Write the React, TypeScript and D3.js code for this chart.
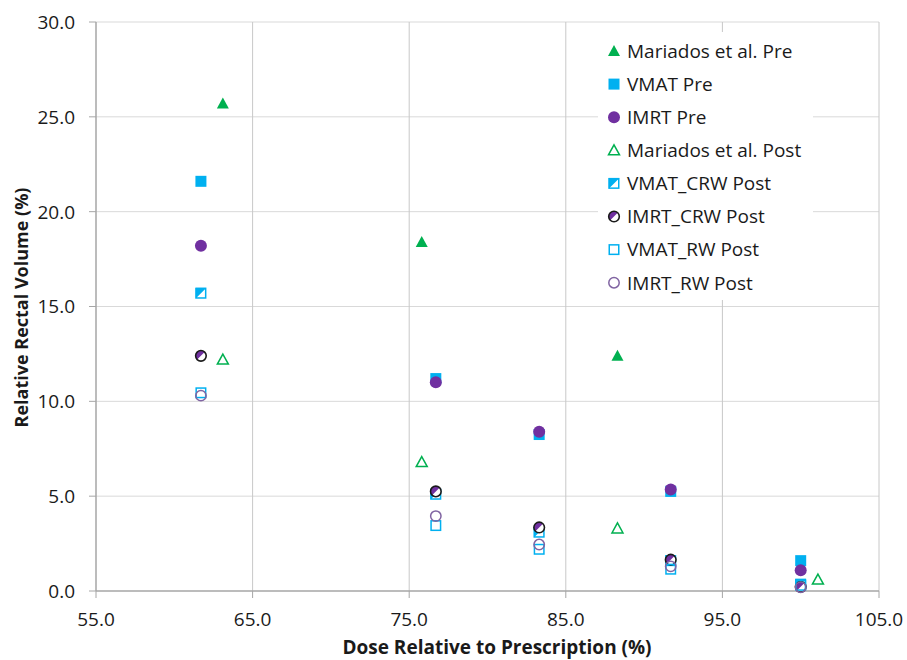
import React from "react";
import * as d3 from "d3";

const xTicks = [55, 65, 75, 85, 95, 105];
const yTicks = [0, 5, 10, 15, 20, 25, 30];

const mariadosPreX = [63.1, 75.8, 88.3];
const mariadosPreY = [25.7, 18.4, 12.4];
const mariadosPostX = [63.1, 75.8, 88.3, 101.1];
const mariadosPostY = [12.2, 6.8, 3.3, 0.6];

const planX = [61.7, 76.7, 83.3, 91.7, 100];
const vmatPre = [21.6, 11.2, 8.25, 5.25, 1.6];
const imrtPre = [18.2, 11.0, 8.4, 5.35, 1.1];
const vmatCrw = [15.7, 5.1, 3.1, 1.6, 0.35];
const imrtCrw = [12.4, 5.25, 3.35, 1.65, 0.22];
const vmatRw = [10.45, 3.45, 2.2, 1.15, 0.3];
const imrtRw = [10.3, 3.95, 2.45, 1.3, 0.2];

const seriesNames = [
  "Mariados et al. Pre",
  "VMAT Pre",
  "IMRT Pre",
  "Mariados et al. Post",
  "VMAT_CRW Post",
  "IMRT_CRW Post",
  "VMAT_RW Post",
  "IMRT_RW Post",
];

const GREEN = "#00b050";
const BLUE = "#00b0f0";
const PURPLE = "#7030a0";
const LPURPLE = "#8064a2";

const W = 907, H = 660;
const left = 96, right = 879, top = 22, bottom = 591;
const FONT = "'Open Sans', Lato, sans-serif";

function Marker({ kind, cx, cy }: { kind: number; cx: number; cy: number }) {
  const s = 5.5;
  switch (kind) {
    case 0:
      return <path d={`M${cx},${cy - 6}L${cx + 6},${cy + 5}L${cx - 6},${cy + 5}Z`} fill={GREEN} />;
    case 1:
      return <rect x={cx - s} y={cy - s} width={2 * s} height={2 * s} fill={BLUE} />;
    case 2:
      return <circle cx={cx} cy={cy} r={6} fill={PURPLE} />;
    case 3:
      return <path d={`M${cx},${cy - 5.5}L${cx + 5.5},${cy + 4.5}L${cx - 5.5},${cy + 4.5}Z`} fill="none" stroke={GREEN} strokeWidth={1.5} />;
    case 4:
      return (
        <g>
          <rect x={cx - s + 0.75} y={cy - s + 0.75} width={2 * s - 1.5} height={2 * s - 1.5} fill="#fff" />
          <path d={`M${cx - s},${cy - s}L${cx + s},${cy - s}L${cx - s},${cy + s}Z`} fill={BLUE} />
          <rect x={cx - s + 0.75} y={cy - s + 0.75} width={2 * s - 1.5} height={2 * s - 1.5} fill="none" stroke={BLUE} strokeWidth={1.5} />
        </g>
      );
    case 5: {
      const r = 5.3;
      const k = r / Math.SQRT2;
      return (
        <g>
          <circle cx={cx} cy={cy} r={r} fill="#fff" />
          <path d={`M${cx - k},${cy + k}A${r},${r} 0 0 1 ${cx + k},${cy - k}Z`} fill={PURPLE} />
          <circle cx={cx} cy={cy} r={r} fill="none" stroke="#1a1a1a" strokeWidth={1.6} />
        </g>
      );
    }
    case 6:
      return <rect x={cx - s + 0.75} y={cy - s + 0.75} width={2 * s - 1.5} height={2 * s - 1.5} fill="none" stroke={BLUE} strokeWidth={1.5} />;
    case 7:
    default:
      return <circle cx={cx} cy={cy} r={5.2} fill="none" stroke={LPURPLE} strokeWidth={1.5} />;
  }
}

export default function App() {
  const x = d3.scaleLinear().domain([55, 105]).range([left, right]);
  const y = d3.scaleLinear().domain([0, 30]).range([bottom, top]);

  const series: { kind: number; xs: number[]; ys: number[] }[] = [
    { kind: 0, xs: mariadosPreX, ys: mariadosPreY },
    { kind: 1, xs: planX, ys: vmatPre },
    { kind: 2, xs: planX, ys: imrtPre },
    { kind: 3, xs: mariadosPostX, ys: mariadosPostY },
    { kind: 4, xs: planX, ys: vmatCrw },
    { kind: 5, xs: planX, ys: imrtCrw },
    { kind: 6, xs: planX, ys: vmatRw },
    { kind: 7, xs: planX, ys: imrtRw },
  ];

  return (
    <div style={{ position: "fixed", left: 0, top: 0 }}>
      <svg width={W} height={H} style={{ display: "block", background: "#fff" }} fontFamily={FONT}>
        {/* gridlines */}
        {yTicks.filter((t) => t > 0).map((t) => (
          <line key={"gy" + t} x1={left} x2={right} y1={y(t)} y2={y(t)} stroke="#d9d9d9" strokeWidth={1} />
        ))}
        {xTicks.filter((t) => t > 55).map((t) => (
          <line key={"gx" + t} x1={x(t)} x2={x(t)} y1={top} y2={bottom} stroke="#c8c8c8" strokeWidth={1} />
        ))}
        {/* axes */}
        <line x1={left} x2={left} y1={top} y2={bottom} stroke="#a6a6a6" strokeWidth={1.5} />
        <line x1={left} x2={right} y1={bottom} y2={bottom} stroke="#a6a6a6" strokeWidth={1.5} />
        {yTicks.map((t) => (
          <g key={"ty" + t}>
            <line x1={left - 7} x2={left} y1={y(t)} y2={y(t)} stroke="#a6a6a6" strokeWidth={1} />
            <text x={75} y={y(t)} dy="0.36em" textAnchor="end" fontSize={19} fill="#1a1a1a">
              {t.toFixed(1)}
            </text>
          </g>
        ))}
        {xTicks.map((t) => (
          <g key={"tx" + t}>
            <line x1={x(t)} x2={x(t)} y1={bottom} y2={bottom + 7} stroke="#a6a6a6" strokeWidth={1} />
            <text x={x(t)} y={626} textAnchor="middle" fontSize={19} fill="#1a1a1a">
              {t.toFixed(1)}
            </text>
          </g>
        ))}
        {/* axis titles */}
        <text x={497} y={653.5} textAnchor="middle" fontSize={19} fontWeight="bold" fill="#1a1a1a">
          Dose Relative to Prescription (%)
        </text>
        <text
          transform={`translate(28,${(top + bottom) / 2 + 1}) rotate(-90)`}
          textAnchor="middle"
          fontSize={18}
          fontWeight="bold"
          fill="#1a1a1a"
        >
          Relative Rectal Volume (%)
        </text>
        {/* data */}
        {series.map((s, i) => (
          <g key={"s" + i}>
            {s.xs.map((xv, j) => (
              <Marker key={j} kind={s.kind} cx={x(xv)} cy={y(s.ys[j])} />
            ))}
          </g>
        ))}
        {/* legend */}
        <rect x={598} y={32} width={215} height={268} fill="#fff" />
        {seriesNames.map((n, i) => {
          const ly = 51 + i * 33.1;
          return (
            <g key={"l" + i}>
              <Marker kind={i} cx={614} cy={ly} />
              <text x={627} y={ly} dy="0.36em" fontSize={19} fill="#1a1a1a">
                {n}
              </text>
            </g>
          );
        })}
      </svg>
    </div>
  );
}
